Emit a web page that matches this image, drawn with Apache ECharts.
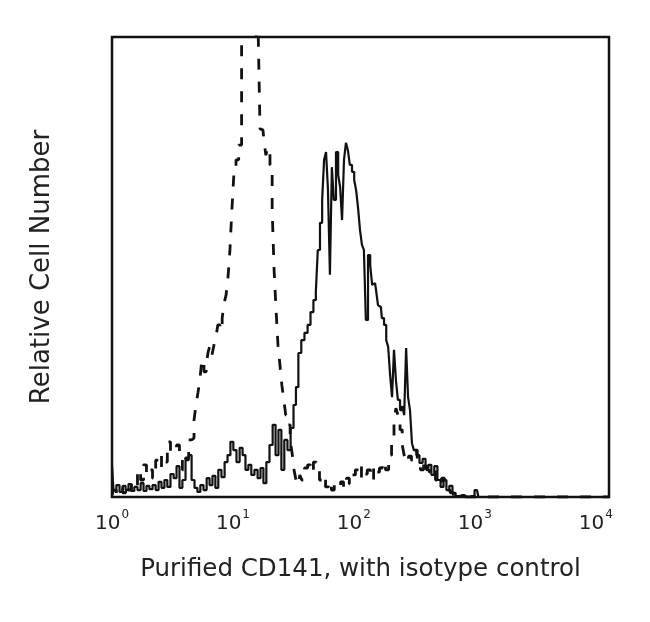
<!DOCTYPE html>
<html>
<head>
<meta charset="utf-8">
<script src="https://cdn.jsdelivr.net/npm/echarts@6/dist/echarts.min.js"></script>
<style>
html,body{margin:0;padding:0;background:#fff;}
#chart{width:650px;height:622px;}
</style>
</head>
<body>
<div id="chart"></div>
<script>
// Log-amplified channels (256 channels per decade, 0..1024 = 10^0..10^4)
var stainedChannels = [0,6,12,19,25,31,37,43,49,56,62,68,74,80,87,93,99,105,111,117,124,130,136,142,148,155,161,167,173,179,185,192,198,204,210,216,222,229,235,241,247,253,260,266,272,278,284,290,297,303,309,315,321,328,334,340,346,352,358,365,371,377,381,387,393,400,406,412,418,422,426,431,435,439,443,447,451,455,459,464,468,472,476,480,484,488,492,497,501,505,509,513,517,521,525,530,534,538,542,546,550,554,558,563,567,571,575,579,583,587,591,596,600,604,608,612,616,620,624,630,637,643,649,655,661,667,674,680,686,692,698,705,711,721,731,742,752,758,779,1024];
var stainedCounts = [7.0,1.5,2.6,1.1,2.4,1.5,2.8,1.3,2.2,1.5,3.0,1.3,2.4,1.7,2.6,1.5,3.3,2.0,3.7,2.2,5.0,4.1,6.7,2.0,3.7,8.0,9.1,3.7,2.0,1.1,2.6,1.5,4.1,2.6,4.6,2.0,5.9,4.3,7.6,9.1,12.0,10.2,7.6,10.7,9.1,5.9,7.0,4.8,5.9,4.1,6.3,3.0,7.6,11.3,15.7,9.1,14.6,5.9,12.4,10.2,15.0,20.0,23.9,31.3,34.1,35.7,37.4,40.2,42.8,44.6,53.7,59.6,64.6,73.3,75.0,66.7,48.3,71.7,64.6,75.0,70.0,67.4,60.2,73.3,77.0,75.4,72.2,70.7,68.9,66.7,62.8,58.0,54.8,53.7,38.5,52.6,50.4,46.1,46.5,45.0,41.7,41.3,38.9,37.4,34.1,32.6,26.5,21.7,32.0,25.4,21.1,18.9,19.8,17.8,32.4,21.7,18.9,11.7,10.2,9.1,7.4,8.3,6.3,7.0,4.8,6.7,3.7,2.2,3.7,1.5,2.4,0.9,0.2,0.4,0,0.2,1.5,0,0,0];

var isotypeChannels = [0,6,12,19,25,31,37,43,49,56,62,68,74,80,87,93,99,105,111,117,124,130,136,142,148,155,161,167,171,175,179,183,187,192,196,200,204,208,212,216,220,225,229,233,237,241,245,249,253,258,264,270,274,280,288,295,299,303,307,311,315,319,323,328,332,336,340,344,348,352,356,360,365,369,373,377,381,385,389,393,400,406,412,418,424,431,437,443,449,455,461,468,474,480,486,492,498,505,511,517,523,529,536,542,548,554,560,567,573,579,583,587,591,596,600,604,608,614,620,626,632,639,645,651,657,663,670,676,682,688,694,700,707,717,1024];
var isotypeCounts = [0.4,1.5,0.7,2.0,0.9,2.6,1.5,3.0,2.2,5.9,3.7,7.0,4.8,5.9,4.1,8.0,6.3,9.1,7.6,12.0,9.8,10.7,11.3,8.9,5.9,8.5,12.4,12.8,16.7,20.0,22.6,25.4,29.8,27.2,28.7,31.5,33.0,30.9,33.0,34.6,37.4,36.3,38.9,42.2,43.9,47.8,53.7,62.4,70.0,73.3,76.5,102.0,101.5,102.6,102.0,99.3,102.6,102.0,80.0,79.8,77.6,74.3,75.9,72.2,62.4,49.3,40.7,33.0,28.7,24.3,21.1,17.8,15.7,12.4,9.6,5.9,3.7,2.6,4.8,3.7,6.3,7.0,5.4,7.6,6.3,3.7,4.6,2.2,3.3,1.5,2.6,2.0,3.3,2.0,4.1,2.8,4.8,5.9,4.1,6.7,5.0,5.9,3.7,6.7,5.4,6.3,7.6,5.9,9.1,12.4,16.7,19.3,17.8,14.6,11.3,9.1,7.6,8.9,8.0,10.2,7.6,5.9,8.0,5.9,5.4,6.3,3.7,2.6,4.1,2.0,1.5,0.9,0.2,0,0];

var tickExponents = [0, 1, 2, 3, 4];
var tickBase = '10';
var xAxisTitle = 'Purified CD141, with isotype control';
var yAxisTitle = 'Relative Cell Number';

function toPairs(ch, cnt) {
  return ch.map(function (c, i) { return [Math.pow(10, c / 256), cnt[i]]; });
}

var chart = echarts.init(document.getElementById('chart'), null, {renderer: 'canvas'});
var FONT = 'DejaVu Sans';
chart.setOption({
  animation: false,
  backgroundColor: '#ffffff',
  grid: {
    left: 112, top: 37, width: 497, height: 460,
    show: true, borderColor: '#111', borderWidth: 2.5, backgroundColor: 'transparent'
  },
  xAxis: [{
    type: 'log', logBase: 10, min: 1, max: 10000,
    axisLine: {show: false}, axisTick: {show: false}, axisLabel: {show: false},
    splitLine: {show: false},
    name: xAxisTitle, nameLocation: 'middle', nameGap: 60,
    nameTextStyle: {fontFamily: FONT, fontSize: 24.5, color: '#222'}
  }, {
    type: 'value', min: 0, max: 4.109, interval: 1, position: 'bottom',
    axisLine: {show: false}, axisTick: {show: false}, splitLine: {show: false},
    axisLabel: {
      margin: 12, showMaxLabel: false,
      formatter: function (v) {
        var i = tickExponents.indexOf(Math.round(v * 1000) / 1000);
        if (i < 0) return '';
        return '{b|' + tickBase + '}{s|' + tickExponents[i] + '}';
      },
      rich: {
        b: {fontFamily: FONT, fontSize: 20, lineHeight: 30, color: '#222', verticalAlign: 'middle'},
        s: {fontFamily: FONT, fontSize: 12, lineHeight: 12, color: '#222', verticalAlign: 'top', padding: [0, 0, 0, 1]}
      }
    }
  }],
  yAxis: {
    type: 'value', min: 0, max: 100,
    axisLine: {show: false}, axisTick: {show: false}, axisLabel: {show: false},
    splitLine: {show: false},
    name: yAxisTitle, nameLocation: 'middle', nameGap: 57, nameRotate: 90,
    nameTextStyle: {fontFamily: FONT, fontSize: 26, color: '#222'}
  },
  series: [{
    type: 'line', name: 'CD141', xAxisIndex: 0, step: 'middle',
    data: toPairs(stainedChannels, stainedCounts),
    showSymbol: false, clip: true,
    lineStyle: {color: '#111', width: 2.2}
  }, {
    type: 'line', name: 'Isotype control', xAxisIndex: 0, step: 'middle',
    data: toPairs(isotypeChannels, isotypeCounts),
    showSymbol: false, clip: true,
    lineStyle: {color: '#111', width: 2.8, type: [11, 12]}
  }]
});
</script>
</body>
</html>
